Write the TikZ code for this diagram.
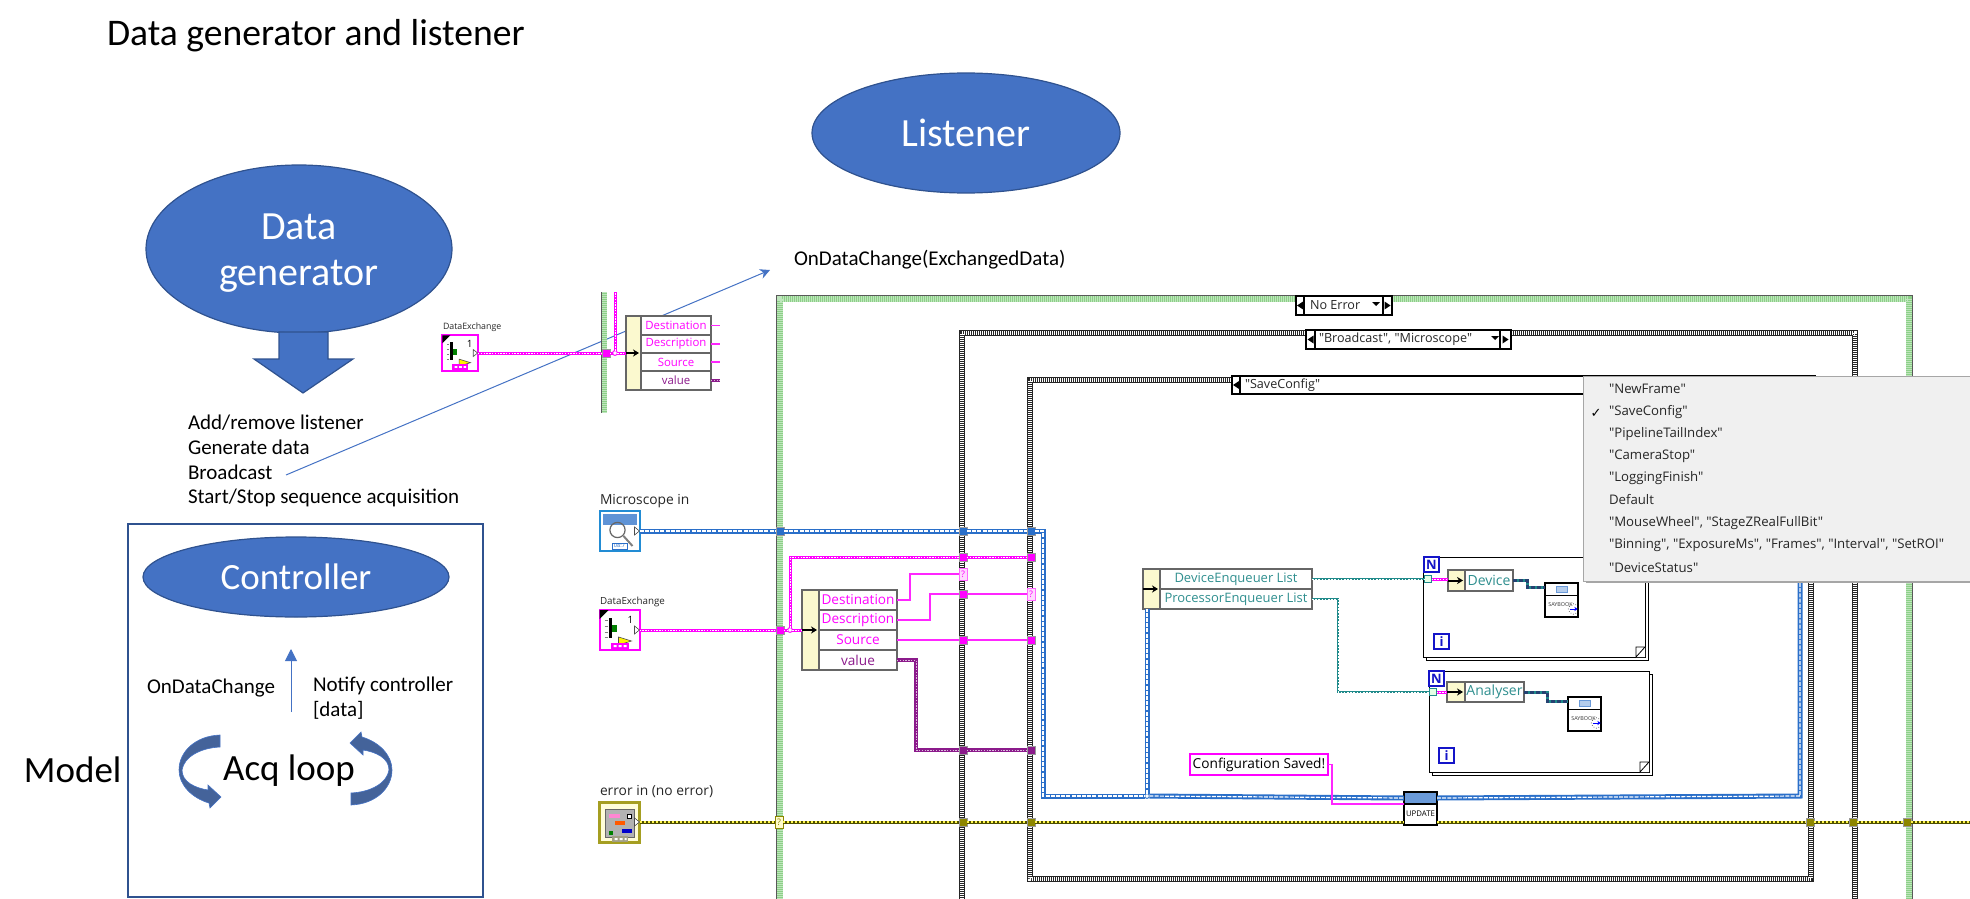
\documentclass[tikz,border=0pt]{standalone}
\usepackage{fontspec}
\setmainfont{Carlito}
\newfontfamily\labfont{Open Sans}
\newfontfamily\symfont{DejaVu Sans}
\usetikzlibrary{arrows.meta,positioning,shapes.geometric}
\definecolor{officeblue}{HTML}{4472C4}
\definecolor{officeedge}{HTML}{2F528F}
\definecolor{framegreen}{HTML}{8CD087}
\definecolor{wirepink}{HTML}{FF00FF}
\definecolor{wirepurple}{HTML}{8B1A8B}
\definecolor{wireblue}{HTML}{2A6FC9}
\definecolor{wireolive}{HTML}{4F4F00}
\definecolor{wireteal}{HTML}{1F8A8A}
\definecolor{labteal}{HTML}{2F8F8F}
\definecolor{headyellow}{HTML}{FBF9CF}
\definecolor{loopblue}{HTML}{1414C8}

\begin{document}
\begin{tikzpicture}[x=0.5pt, y=-0.5pt,
  boxsize/.style 2 args={minimum width=#1*0.5pt, minimum height=#2*0.5pt},
  every node/.style={inner sep=0pt, outer sep=0pt},
  blob/.style={ellipse, draw=officeedge, line width=.6pt, fill=officeblue, text=white, align=center},
  slide/.style={anchor=west, font=\fontsize{10.5}{12.4}\selectfont},
  lab/.style={anchor=west, font=\labfont\fontsize{6.9}{8}\selectfont, text=black!85},
  caselab/.style={anchor=west, font=\labfont\fontsize{6.3}{7}\selectfont, text=black!85},
  menulab/.style={anchor=west, font=\labfont\fontsize{6.6}{8}\selectfont, text=black!85},
  head/.style={anchor=north west, draw=black!60, line width=.6pt, fill=headyellow},
  field/.style={anchor=north west, draw=black!60, line width=.6pt, fill=white, text=wirepink, font=\labfont\fontsize{6.8}{8}\selectfont},
  upfield/.style={field, font=\labfont\fontsize{5.7}{7}\selectfont},
  tealfield/.style={field, text=labteal, font=\labfont\fontsize{6.5}{8}\selectfont},
  casecell/.style={anchor=north west, draw=black, line width=.6pt, fill=white},
  loopbox/.style={anchor=north west, draw=black, line width=.5pt, fill=white},
  loopmark/.style={anchor=north west, draw=loopblue, line width=1pt, fill=white, text=loopblue, boxsize={15}{15}, font=\labfont\fontsize{6.5}{7}\selectfont\bfseries},
  iconbox/.style={anchor=north west, fill=white, line width=1pt},
  mailbox/.style={anchor=north west, draw=black, line width=.6pt, fill=white, boxsize={33}{34}},
  term/.style={draw=black!40, line width=.3pt, minimum size=4pt},
  qterm/.style={draw=wirepink!60, line width=.4pt, fill=wirepink!15, text=wirepink, boxsize={8}{12}, font=\labfont\fontsize{4.5}{5}\selectfont},
  joint/.style={circle, minimum size=2.4pt, draw=#1, line width=.5pt, fill=white},
  greenframe/.style={draw=framegreen, line width=3pt, postaction={draw=white, opacity=.45, line width=3pt, dash pattern=on .5pt off .5pt}},
  greenedge/.style={draw=black!65, line width=.5pt},
  checkframe/.style={draw=black!85, line width=3pt, line join=miter, postaction={draw=white, line width=2pt, dash pattern=on .5pt off .5pt}},
  pinkthick/.style={draw=wirepink, line width=1.5pt, postaction={draw=white, line width=.4pt, dash pattern=on .7pt off .7pt}},
  pinkthin/.style={draw=wirepink!85, line width=.7pt},
  purplewire/.style={draw=wirepurple, line width=1.8pt, postaction={draw=white!70!wirepurple, line width=.5pt, dash pattern=on .7pt off .7pt}},
  bluewire/.style={draw=wireblue, line width=2.5pt, postaction={draw=white, line width=.6pt, dash pattern=on 2pt off .6pt}},
  olivewire/.style={draw=wireolive, line width=1.5pt, postaction={draw=yellow!70!white, line width=1.2pt, dash pattern=on 1pt off 1pt}},
  tealwire/.style={draw=wireteal, line width=.9pt, postaction={draw=white, line width=.25pt, dash pattern=on .8pt off .8pt}},
  refwire/.style={draw=wireteal, line width=1.5pt, postaction={draw=officeedge!80!black, line width=1.5pt, dash pattern=on 2pt off 1pt}},
  headarrow/.style={-{Stealth[length=3pt,width=3.6pt]}, line width=1pt, black, shorten >=1pt},
  dataicon/.pic={
    \fill[black] (-20,-20) -- (-11,-20) -- (-20,-11) -- cycle;
    \fill[black] (-11,-12) rectangle (-8,8);
    \fill[green!50!black] (-8,-5) rectangle (-3,2);
    \draw[black!50, line width=.3pt] (-15,-10) -- (-12,-10) (-15,-4) -- (-12,-4) (-15,2) -- (-12,2) (-15,7) -- (-12,7);
    \node[font=\labfont\fontsize{5}{6}\selectfont] (one) at (11,-10) {1};
    \fill[yellow, draw=black!70, line width=.3pt] (-1,7) -- (12,11) -- (-1,15) -- cycle;
    \fill[wirepink] (-9,13) rectangle (9,20);
    \fill[white] (-6,15) rectangle (-3,17) (-1,15) rectangle (2,17) (4,15) rectangle (7,17);
    \fill[white, draw=black!70, line width=.3pt] (15,-4) -- (20,0) -- (15,4) -- cycle;
  },
  scopeicon/.pic={
    \fill[wireblue!75] (-17,-17) rectangle (17,-6);
    \draw[black!60, line width=.6pt] (-2,-1) circle (3.8pt);
    \draw[black!50, line width=1pt] (4,5) -- (13,15);
    \node[draw=wireblue, fill=white, text=wireblue, line width=.4pt, font=\labfont\fontsize{2.8}{3}\selectfont, boxsize={15}{6}] (stamp) at (0,15) {08:7};
    \fill[white, draw=black!70, line width=.3pt] (15,-4) -- (20,0) -- (15,4) -- cycle;
  },
  erroricon/.pic={
    \fill[black!30, draw=black!60, line width=.3pt] (-14,-13) rectangle (15,15);
    \fill[pink!70!magenta] (-11,-8) rectangle (0,-4);
    \fill[white, draw=black, line width=.3pt] (8,-8) rectangle (12,-4);
    \fill[orange!70!red] (-5,-1) rectangle (5,3);
    \fill[blue!80!black] (2,7) rectangle (12,11);
    \fill[green!50!black] (-11,9) rectangle (-7,13);
    \fill[black!70!yellow!60!white] (-8,14) rectangle (8,20);
    \fill[white] (-5,16) rectangle (-2,18) (0,16) rectangle (3,18) (5,16) rectangle (7,18);
    \fill[white, draw=black!70, line width=.3pt] (15,-4) -- (20,0) -- (15,4) -- cycle;
  },
  mailicon/.pic={
    \draw[black, line width=.4pt] (-16,-5) -- (16,-5);
    \fill[wireblue!35, draw=wireblue!70, line width=.3pt] (-5,-14) rectangle (6,-8);
    \node[font=\labfont\fontsize{2.7}{3}\selectfont, text=black!80] (word) at (-1,5) {SAYBOOK};
    \draw[black, line width=.3pt, densely dotted] (12,9) circle (2.6pt);
    \draw[-{Stealth[length=1.6pt,width=2.2pt]}, blue, line width=.5pt] (8,9) -- (16,9);
  },
  leftmark/.pic={\fill[black] (3,-4) -- (3,4) -- (-3,0) -- cycle;},
  rightmark/.pic={\fill[black] (-3,-4) -- (-3,4) -- (3,0) -- cycle;},
  downmark/.pic={\fill[black] (-4,-2) -- (4,-2) -- (0,2) -- cycle;},
  dogear/.pic={\fill[white] (0,0) -- (-9,0) -- (0,-10) -- cycle; \draw[black, line width=.4pt, fill=white] (-9,-10) -- (0,-10) -- (-9,0) -- cycle;},
]
  \useasboundingbox (0,0) rectangle (1970,899);
  % Left column
  \node[anchor=west, font=\fontsize{18.8}{22}\selectfont] (title) at (107,36) {Data generator and listener};
  \node[blob, boxsize={308}{120}, font=\fontsize{20}{24}\selectfont] (listener) at (966,133) {Listener};
  \node[blob, boxsize={306}{168}, font=\fontsize{20}{23}\selectfont] (generator) at (299,249) {\rule{0pt}{17pt}Data\\generator};
  \fill[officeblue, draw=officeedge, line width=.6pt] (279,332) -- (328,332) -- (328,359) -- (353,359) -- (303,393) -- (254,359) -- (279,359) -- cycle;
  \node[slide] (addremove) at (188,423) {Add/remove listener};
  \node[slide] (generate) at (188,447) {Generate data};
  \node[slide] (broadcast) at (188,472) {Broadcast};
  \node[slide] (startstop) at (188,498) {Start/Stop sequence acquisition};
  \node[anchor=west, font=\fontsize{10.5}{12}\selectfont] (ondata) at (794,260) {OnDataChange(ExchangedData)};
  \coordinate (linefrom) at (286,475);
  \coordinate (lineto) at (770,270);
  \draw[-{Stealth[length=5pt,width=5pt]}, officeblue, line width=.5pt] (linefrom) -- (lineto);

  % Controller box
  \draw[officeedge, line width=.8pt] (128,524) rectangle (483,897);
  \node[blob, boxsize={306}{80}, font=\fontsize{18.5}{22}\selectfont] (controller) at (296,577) {Controller};
  \coordinate (notifyfrom) at (291,712);
  \coordinate (notifyto) at (291,649);
  \draw[-{Triangle[length=6pt,width=6pt]}, officeblue, line width=.5pt] (notifyfrom) -- (notifyto);
  \node[slide] (ondatachange) at (147,688) {OnDataChange};
  \node[slide, align=left] (notify) at (313,698) {Notify controller\\{}[data]};
  \node[font=\fontsize{18.5}{22}\selectfont] (acq) at (289,771) {Acq loop};
  \node[anchor=west, font=\fontsize{18.5}{22}\selectfont] (model) at (24,770) {Model};
  \fill[officeedge!90, draw=officeblue, line width=.3pt] (220,735) .. controls (195,736) and (179,752) .. (179,770) .. controls (179,785) and (192,798) .. (209,803) -- (210,808) -- (221,797) -- (208,785) -- (208,790) .. controls (195,788) and (182,782) .. (182,770) .. controls (184,757) and (200,748) .. (220,747) -- cycle;
  \fill[officeedge!90, draw=officeblue, line width=.3pt, rotate around={180:(285.5,770)}] (220,735) .. controls (195,736) and (179,752) .. (179,770) .. controls (179,785) and (192,798) .. (209,803) -- (210,808) -- (221,797) -- (208,785) -- (208,790) .. controls (195,788) and (182,782) .. (182,770) .. controls (184,757) and (200,748) .. (220,747) -- cycle;

  % Frames
  \draw[greenframe] (604,292) -- (604,413);
  \draw[greenedge] (601,292) -- (601,413);
  \draw[greenframe] (779.5,899) -- (779.5,298.5) -- (1908.5,298.5) -- (1908.5,899);
  \draw[greenedge] (776,899) -- (776,295) -- (1912,295) -- (1912,899);
  \draw[checkframe] (962,899) -- (962,333) -- (1854.5,333) -- (1854.5,899);
  \draw[checkframe] (1030,380) -- (1811,380) -- (1811,879) -- (1030,879) -- cycle;

  % Case selectors
  \node[casecell, boxsize={8}{19}] (noerrprev) at (1296,296) {};
  \node[casecell, boxsize={79}{19}] (noerrmain) at (1304,296) {};
  \node[casecell, boxsize={9}{19}] (noerrnext) at (1383,296) {};
  \node[caselab] (noerrtext) at (1310,305.5) {No Error};
  \pic at (noerrprev) {leftmark};
  \pic at (noerrnext) {rightmark};
  \pic at (1376,304) {downmark};
  \node[casecell, boxsize={9}{19}] (bcastprev) at (1306,330) {};
  \node[casecell, boxsize={185}{19}] (bcastmain) at (1315,330) {};
  \node[casecell, boxsize={11}{19}] (bcastnext) at (1500,330) {};
  \node[caselab] (bcasttext) at (1319,339.5) {"Broadcast", "Microscope"};
  \pic at (bcastprev) {leftmark};
  \pic at (bcastnext) {rightmark};
  \pic at (1495,338) {downmark};
  \node[casecell, boxsize={8}{18}] (saveprev) at (1232,376) {};
  \node[casecell, boxsize={575}{18}] (savemain) at (1240,376) {};
  \node[caselab] (savetext) at (1245,385) {"SaveConfig"};
  \pic at (saveprev) {leftmark};

  % Upper DataExchange
  \node[font=\labfont\fontsize{4.4}{5}\selectfont, anchor=west, text=black!85] (upperlabel) at (443,327) {DataExchange};
  \node[iconbox, draw=wirepink, boxsize={36}{36}] (uppericon) at (442,335) {};
  \pic[scale=.88] (ua) at (uppericon) {dataicon};
  \node[term, fill=wirepink] (upperterm) at (606,353) {};
  \node[joint=wirepink] (upperjoint) at (615,353) {};
  \coordinate (uppertop) at (615,292);
  \node[head, boxsize={15}{74}] (upperhead) at (626,316) {};
  \node[upfield, boxsize={70}{19}] (upperdest) at (641,316) {Destination};
  \node[upfield, boxsize={70}{18}] (upperdesc) at (641,335) {Description};
  \node[upfield, boxsize={70}{18}] (uppersrc) at (641,353) {Source};
  \node[upfield, boxsize={70}{19}, text=wirepurple] (upperval) at (641,371) {value};
  \draw[pinkthick] (uppericon) -- (upperterm);
  \draw[pinkthick] (upperterm) -- (upperjoint);
  \draw[pinkthick] (upperjoint) -- (uppertop);
  \draw[pinkthick] (upperjoint) -- (upperhead.west);
  \draw[headarrow] (upperhead.west) -- (upperhead.east);
  \draw[pinkthin] (upperdest.east) -- ++(9,0);
  \draw[pinkthin] (upperdesc.east) -- ++(9,0);
  \draw[pinkthin] (uppersrc.east) -- ++(9,0);
  \draw[purplewire] (upperval.east) -- ++(9,0);

  % Microscope, error and lower DataExchange
  \node[lab] (scopelabel) at (600,501) {Microscope in};
  \node[iconbox, draw=wireblue!80!cyan, boxsize={40}{40}] (scopeicon) at (599.5,511) {};
  \pic (sc) at (scopeicon) {scopeicon};
  \node[font=\labfont\fontsize{4.9}{5}\selectfont, anchor=west, text=black!85] (lowerlabel) at (600,602) {DataExchange};
  \node[iconbox, draw=wirepink, boxsize={40}{40}] (lowericon) at (599.5,610) {};
  \pic (la) at (lowericon) {dataicon};
  \node[lab] (errlabel) at (600,792) {error in (no error)};
  \node[iconbox, draw=olive!80!white, fill=yellow!15, line width=1.5pt, boxsize={40}{40}] (erricon) at (599.5,802) {};
  \pic (er) at (erricon) {erroricon};

  \node[term, fill=wireblue] (bluea) at (780,531) {};
  \node[term, fill=wireblue] (blueb) at (963,531) {};
  \node[term, fill=wireblue] (bluec) at (1031,531) {};
  \coordinate (blueturn) at (1043,531);
  \coordinate (blueleft) at (1043,796);
  \node[joint=wireblue] (bluejoint) at (1147,796) {};
  \node[anchor=north west, draw=black, line width=.6pt, fill=white, boxsize={33}{33}] (updatebox) at (1404,792) {};
  \node[anchor=north west, draw=black, line width=.6pt, fill=wireblue!70, boxsize={33}{12}] (updatetop) at (1404,792) {};
  \node[font=\labfont\fontsize{3.9}{4}\selectfont] (updatetext) at (1420.5,814) {UPDATE};
  \coordinate (blueright) at (1800,796);
  \coordinate (bluehidden) at (1800,570);
  \draw[bluewire] (scopeicon) -- (bluea);
  \draw[bluewire] (bluea) -- (blueb);
  \draw[bluewire] (blueb) -- (bluec);
  \draw[bluewire] (bluec) -- (blueturn) -- (blueleft) -- (bluejoint);
  \draw[bluewire] (bluejoint) -- (updatetop.west);
  \draw[bluewire] (updatetop.east) -- (blueright) -- (bluehidden);

  % Lower unbundle
  \node[term, fill=wirepink] (pinka) at (780,630) {};
  \node[joint=wirepink] (pinkjoint) at (790,630) {};
  \node[term, fill=wirepink] (pinkb) at (963,557) {};
  \node[term, fill=wirepink] (pinkc) at (1031,557) {};
  \node[head, boxsize={17}{80}] (lowerhead) at (802,590) {};
  \node[field, boxsize={78}{20}] (lowerdest) at (819,590) {Destination};
  \node[field, boxsize={78}{20}] (lowerdesc) at (819,610) {Description};
  \node[field, boxsize={78}{20}] (lowersrc) at (819,630) {Source};
  \node[field, boxsize={78}{20}, text=wirepurple] (lowerval) at (819,650) {value};
  \draw[pinkthick] (lowericon) -- (pinka);
  \draw[pinkthick] (pinka) -- (pinkjoint);
  \draw[pinkthick] (pinkjoint) |- (pinkb);
  \draw[pinkthick] (pinkb) -- (pinkc);
  \draw[pinkthick] (pinkjoint) -- (lowerhead.west);
  \draw[headarrow] (lowerhead.west) -- (lowerhead.east);
  \node[qterm] (desttermq) at (963,574) {?};
  \node[term, fill=wirepink] (descterm) at (963,594) {};
  \node[qterm] (desctermq) at (1031,594) {?};
  \node[term, fill=wirepink] (srcterma) at (963,640) {};
  \node[term, fill=wirepink] (srctermb) at (1031,640) {};
  \node[term, fill=wirepurple] (valterma) at (963,750) {};
  \node[term, fill=wirepurple] (valtermb) at (1031,750) {};
  \coordinate (destturn) at (910,574);
  \coordinate (descturn) at (930,594);
  \coordinate (valturn) at (916,750);
  \draw[pinkthin] (lowerdest.east) -| (destturn) -- (desttermq);
  \draw[pinkthin] (lowerdesc.east) -| (descturn) -- (descterm);
  \draw[pinkthin] (descterm) -- (desctermq);
  \draw[pinkthin] (lowersrc.east) -- (srcterma);
  \draw[pinkthin] (srcterma) -- (srctermb);
  \draw[purplewire] (lowerval.east) -| (valturn) -- (valterma);
  \draw[purplewire] (valterma) -- (valtermb);

  % Error wire
  \node[qterm, draw=olive, fill=yellow!20, text=olive] (errq) at (779,822) {?};
  \node[term, fill=olive] (erra) at (963,822) {};
  \node[term, fill=olive] (errb) at (1031,822) {};
  \node[term, fill=olive] (errc) at (1810,822) {};
  \node[term, fill=olive] (errd) at (1853,822) {};
  \node[term, fill=olive] (erre) at (1907,822) {};
  \coordinate (errend) at (1970,822);
  \draw[olivewire] (erricon) -- (errq);
  \draw[olivewire] (errq) -- (erra);
  \draw[olivewire] (erra) -- (errb);
  \draw[olivewire] (errb) -- (updatebox.west |- errb);
  \draw[olivewire] (updatebox.east |- errb) -- (errc);
  \draw[olivewire] (errc) -- (errd);
  \draw[olivewire] (errd) -- (erre);
  \draw[olivewire] (erre) -- (errend);

  % Enqueuer list and the two loops
  \node[head, boxsize={17}{40}] (enqhead) at (1143,569) {};
  \node[tealfield, boxsize={152}{20}] (enqdevice) at (1160,569) {DeviceEnqueuer List};
  \node[tealfield, boxsize={152}{20}] (enqproc) at (1160,589) {ProcessorEnqueuer List};
  \draw[bluewire] (bluejoint) -- (enqhead.south -| bluejoint);
  \draw[headarrow] (enqhead.west) -- (enqhead.east);

  \node[loopbox, boxsize={222}{100}] (deviceshadow) at (1426,560) {};
  \node[loopbox, boxsize={222}{100}] (deviceloop) at (1423,557) {};
  \pic at (deviceloop.south east) {dogear};
  \node[loopmark] (devicen) at (1424,557) {N};
  \node[loopmark] (devicei) at (1434,634) {i};
  \node[draw=wireteal, fill=green!10, boxsize={7}{7}, line width=.4pt] (devicetun) at (1428,579) {};
  \node[head, boxsize={17}{21}] (devicehead) at (1448,570) {};
  \node[tealfield, boxsize={48}{21}, font=\labfont\fontsize{7}{8}\selectfont] (devicename) at (1465,570) {Device};
  \node[mailbox] (devicemail) at (1545,583) {};
  \pic (dm) at (devicemail) {mailicon};
  \coordinate (devicemailin) at (1545,587);
  \draw[tealwire] (enqdevice.east |- devicetun) -- (devicetun);
  \draw[pinkthick] (devicetun) -- (devicehead.west |- devicetun);
  \draw[headarrow] (devicehead.west) -- (devicehead.east);
  \draw[refwire] (devicename.east) -- ++(14,0) |- (devicemailin);

  \node[loopbox, boxsize={220}{101}] (procshadow) at (1432,674) {};
  \node[loopbox, boxsize={220}{101}] (procloop) at (1429,671) {};
  \pic at (procloop.south east) {dogear};
  \node[loopmark] (procn) at (1429,671) {N};
  \node[loopmark] (proci) at (1439,748) {i};
  \node[draw=wireteal, fill=green!10, boxsize={7}{7}, line width=.4pt] (proctun) at (1433,692) {};
  \node[head, boxsize={18}{20}] (prochead) at (1447,682) {};
  \node[tealfield, boxsize={59}{20}, font=\labfont\fontsize{7}{8}\selectfont] (procname) at (1465,682) {Analyser};
  \node[mailbox] (procmail) at (1568,697) {};
  \pic (pm) at (procmail) {mailicon};
  \coordinate (procmailin) at (1568,701);
  \coordinate (procturn) at (1338,692);
  \draw[tealwire] (enqproc.east) -| (procturn) -- (proctun);
  \draw[pinkthick] (proctun) -- (prochead.west |- proctun);
  \draw[headarrow] (prochead.west) -- (prochead.east);
  \draw[refwire] (procname.east) -- ++(23,0) |- (procmailin);

  % Saved message
  \node[anchor=north west, draw=wirepink, line width=1pt, fill=white, boxsize={138}{21}, font=\labfont\fontsize{6.85}{8}\selectfont] (saved) at (1190,754) {Configuration Saved!};
  \draw[pinkthin] (saved.east) -- ++(4,0) |- (updatetop.south west);

  % Drop-down list
  \fill[black!35] (1586,379) rectangle (1970,583);
  \node[anchor=north west, draw=black!35, line width=.5pt, fill=black!6, boxsize={387}{205}] (menu) at (1583,376) {};
  \node[menulab] (itema) at (1609,389) {"NewFrame"};
  \node[menulab] (itemb) at (1609,412) {"SaveConfig"};
  \node[menulab] (itemc) at (1609,434) {"PipelineTailIndex"};
  \node[menulab] (itemd) at (1609,456) {"CameraStop"};
  \node[menulab] (iteme) at (1609,478) {"LoggingFinish"};
  \node[menulab] (itemf) at (1609,500) {Default};
  \node[menulab] (itemg) at (1609,523) {"MouseWheel", "StageZRealFullBit"};
  \node[menulab] (itemh) at (1609,545) {"Binning", "ExposureMs", "Frames", "Interval", "SetROI"};
  \node[menulab] (itemi) at (1609,568) {"DeviceStatus"};
  \node[font=\symfont\fontsize{6.5}{7}\selectfont] (tick) at (1596,413) {✓};
\end{tikzpicture}
\end{document}
